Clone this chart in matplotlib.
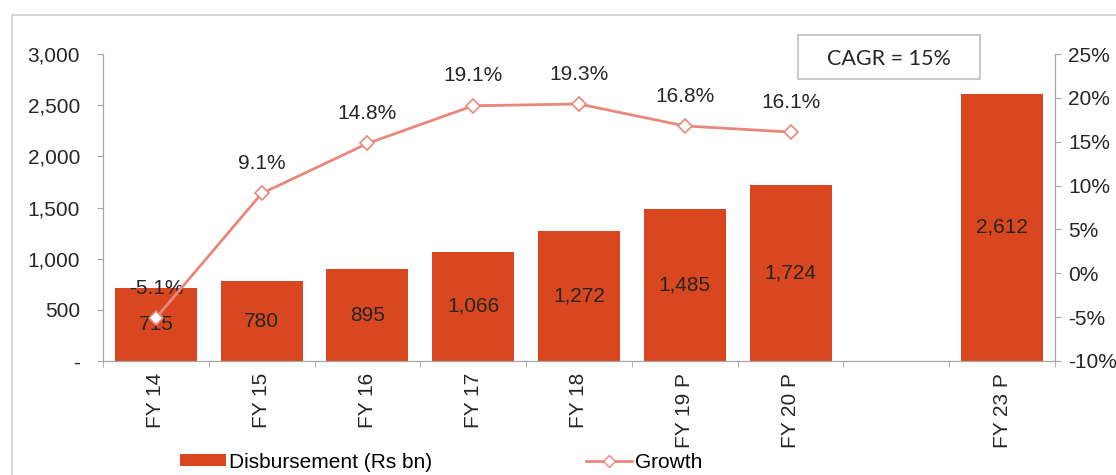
import numpy as np
import matplotlib
matplotlib.use("Agg")
import matplotlib.pyplot as plt
from matplotlib.patches import Rectangle, Patch
from matplotlib.lines import Line2D
from matplotlib.ticker import FuncFormatter, MultipleLocator

plt.rcParams['font.family'] = ['Liberation Sans', 'DejaVu Sans']

categories = ["FY 14", "FY 15", "FY 16", "FY 17", "FY 18", "FY 19 P", "FY 20 P", "", "FY 23 P"]
disbursement = [715, 780, 895, 1066, 1272, 1485, 1724, np.nan, 2612]
growth_categories = ["FY 14", "FY 15", "FY 16", "FY 17", "FY 18", "FY 19 P", "FY 20 P"]
growth = [-5.1, 9.1, 14.8, 19.1, 19.3, 16.8, 16.1]
cagr_text = "CAGR = 15%"

bar_color = "#D8471F"
line_color = "#E9877C"
axis_color = "#A6A6A6"
text_color = "#262626"
FS = 15

W, H = 1116, 475
fig = plt.figure(figsize=(W / 100, H / 100), dpi=100)

# outer border
fig.patches.append(Rectangle((12 / W, -0.1), 1.2, (H - 15) / H + 0.1, transform=fig.transFigure,
                             fill=False, edgecolor="#D0D0D0", linewidth=1.2))

ax = fig.add_axes([103 / W, (H - 361) / H, (1055 - 103) / W, (361 - 54) / H])
x = np.arange(len(categories))
ax.bar(x, disbursement, width=0.775, color=bar_color, zorder=2)
ax.set_xlim(-0.5, len(categories) - 0.5)
ax.set_ylim(0, 3000)
ax.yaxis.set_major_locator(MultipleLocator(500))
ax.yaxis.set_major_formatter(FuncFormatter(lambda v, p: "-" if v == 0 else f"{v:,.0f}"))
ax.set_xticks(x)
ax.set_xticklabels(categories, rotation=90, fontsize=FS, color=text_color)
ax.set_xticks(np.arange(-0.5, len(categories)), minor=True)
ax.tick_params(axis="x", which="major", length=0, pad=8.5)
ax.tick_params(axis="x", which="minor", length=4, color=axis_color, direction="out")
ax.tick_params(axis="y", length=4, color=axis_color, labelsize=FS, labelcolor=text_color, pad=12.5)
ax.spines["top"].set_visible(False)
for s in ["left", "bottom", "right"]:
    ax.spines[s].set_color(axis_color)

for xi, v in zip(x, disbursement):
    if not np.isnan(v):
        ax.text(xi, v / 2, f"{v:,.0f}", ha="center", va="center", fontsize=FS, color=text_color, zorder=5)

ax2 = ax.twinx()
ax2.set_ylim(-10, 25)
ax2.yaxis.set_major_locator(MultipleLocator(5))
ax2.yaxis.set_major_formatter(FuncFormatter(lambda v, p: f"{v:.0f}%"))
ax2.tick_params(axis="y", length=4, color=axis_color, labelsize=FS, labelcolor=text_color, pad=5.5)
ax2.spines["top"].set_visible(False)
for s in ["left", "bottom", "right"]:
    ax2.spines[s].set_color(axis_color)
gx = np.array([categories.index(c) for c in growth_categories])
ax2.plot(gx, growth, color=line_color, linewidth=2, marker="D", markersize=7,
         markerfacecolor="white", markeredgecolor=line_color, markeredgewidth=1.2, zorder=4)
for xi, g in zip(gx, growth):
    ax2.annotate(f"{g:.1f}%", (xi, g), xytext=(0, 21.5), textcoords="offset points",
                 ha="center", va="center", fontsize=FS, color=text_color)

# CAGR box
fig.patches.append(Rectangle((798 / W, (H - 79) / H), 182 / W, 44 / H, transform=fig.transFigure,
                             fill=True, facecolor="white", edgecolor="#BFBFBF", linewidth=1.2))
fig.text(889 / W, (H - 59) / H, cagr_text, ha="center", va="center", fontsize=15.5,
         color=text_color, family=["Lato", "DejaVu Sans"])

# legend
handles = [Patch(facecolor=bar_color, edgecolor="none"),
           Line2D([0], [0], color=line_color, linewidth=2, marker="D", markersize=6,
                  markerfacecolor="white", markeredgecolor=line_color)]
fig.legend(handles, ["Disbursement (Rs bn)", "Growth"], loc="center left",
           bbox_to_anchor=(180 / W, (H - 462) / H), ncol=2, frameon=False, fontsize=FS,
           borderpad=0, borderaxespad=0, handlelength=2.2, handleheight=0.5,
           handletextpad=0.15, columnspacing=7.4)

fig.savefig("out.png", dpi=100)
